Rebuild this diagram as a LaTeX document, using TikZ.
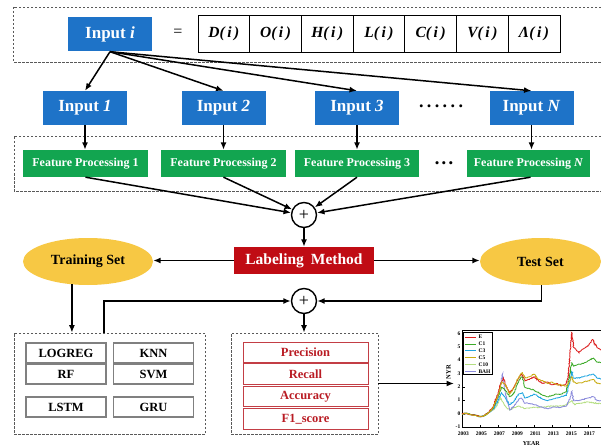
\documentclass[tikz,border=0pt]{standalone}
\usepackage{fontspec}
\setmainfont{Liberation Serif}
\usetikzlibrary{shapes.geometric,arrows.meta,decorations.pathmorphing}

\definecolor{inblue}{RGB}{30,115,200}
\definecolor{fpgreen}{RGB}{18,165,80}
\definecolor{lmred}{RGB}{192,12,20}
\definecolor{setyellow}{RGB}{247,200,68}
\definecolor{metricred}{RGB}{185,28,36}

\tikzset{
  link/.style={-{Latex[length=7.5pt,width=6pt]}, line width=1.5pt},
  dashbox/.style={draw=black!65, line width=0.7pt, dash pattern=on 2.5pt off 1.5pt},
  inputbox/.style={fill=inblue, text=white, font=\fontsize{17}{20}\selectfont\bfseries,
    minimum width=84, minimum height=34, inner sep=0},
  cellbox/.style={draw, line width=0.8pt, font=\fontsize{15.5}{18}\selectfont\bfseries\itshape,
    minimum width=51.7, minimum height=37, inner sep=0},
  featbox/.style={fill=fpgreen, text=white, font=\fontsize{12}{14}\selectfont\bfseries,
    minimum width=125, minimum height=27, inner sep=0},
  sumnode/.style={draw, circle, line width=1.4pt, minimum size=25, inner sep=0,
    font=\fontsize{18}{18}\selectfont},
  setnode/.style={ellipse, fill=setyellow, font=\fontsize{14}{16}\selectfont\bfseries,
    minimum height=47, inner sep=0},
  algobox/.style={draw=black!50, line width=1.4pt, font=\fontsize{12.5}{14}\selectfont\bfseries,
    minimum width=80, minimum height=20, inner sep=0},
  metricbox/.style={draw=metricred!85, line width=1pt, text=metricred,
    font=\fontsize{12.5}{14}\selectfont\bfseries, minimum width=125, minimum height=20.5, inner sep=0},
  ticklbl/.style={font=\fontsize{5.5}{6}\selectfont\bfseries, inner sep=0.6pt},
  curve/.style={line width=0.85pt, decorate,
    decoration={random steps, segment length=0.9pt, amplitude=0.5pt}}
}

\begin{document}
\begin{tikzpicture}[x=1pt, y=-1pt]
    \useasboundingbox (0,0) rectangle (601,446);
    \pgfmathsetseed{7}

    % Dashed frames round the first two rows
    \draw[dashbox] (605,7) -- (13,7) -- (13,62) -- (605,62);
    \draw[dashbox] (605,136) -- (14,136) -- (14,191) -- (605,191);

    % Draw the input sample and its seven fields
    \node[inputbox] at (110, 34.5) (inputi) {Input \textit{i}};
    \node[font=\fontsize{16}{18}\selectfont] at (178, 33) (eq) {=};
    \foreach \lbl [count=\k] in {D,O,H,L,C,V,Λ}
        \node[cellbox] at (198 + 25.85 + 51.7*\k - 51.7, 33.5) (cell\k) {\lbl(\,i\,)};

    % Draw the split inputs
    \node[inputbox] at (85, 108) (in1) {Input \textit{1}};
    \node[inputbox] at (223.5, 108) (in2) {Input \textit{2}};
    \node[inputbox] at (357, 108) (in3) {Input \textit{3}};
    \node[inputbox] at (531.5, 108) (inN) {Input \textit{N}};
    \node[font=\fontsize{18}{18}\selectfont\bfseries] at (441, 106) (indots)
        {.\kern3.4pt.\kern3.4pt.\kern3.4pt.\kern3.4pt.\kern3.4pt.};

    \foreach \n in {1,2,3,N}
        \draw[link] (inputi.south) -- (in\n.north);

    % Draw the feature processing boxes
    \node[featbox] at (85.5, 163.5) (fp1) {Feature Processing 1};
    \node[featbox] at (223.5, 163.5) (fp2) {Feature Processing 2};
    \node[featbox, minimum width=124] at (357, 163.5) (fp3) {Feature Processing 3};
    \node[featbox, minimum width=123] at (528.5, 163.5) (fpN) {Feature Processing \textit{N}};
    \node[font=\fontsize{13}{13}\selectfont] at (444, 165) (fpdots) {•\kern2.4pt•\kern2.4pt•};

    \draw[link] (in1.south) -- (in1.south |- fp1.north);
    \draw[link] (in2.south) -- (in2.south |- fp2.north);
    \draw[link] (in3.south) -- (in3.south |- fp3.north);
    \draw[link] (inN.south) -- (inN.south |- fpN.north);

    % Merge the features and label them
    \node[sumnode] at (304, 215) (sum1) {+};
    \foreach \n in {1,2,3}
        \draw[link] (fp\n.south) -- (sum1);
    \draw[link] ([xshift=2pt]fpN.south) -- (sum1);

    \node[fill=lmred, text=white, font=\fontsize{15.5}{18}\selectfont\bfseries,
        minimum width=140, minimum height=27, inner sep=0] at (304, 260.5) (label)
        {Labeling\hspace{0.45em}Method};
    \draw[link] (sum1) -- (label);

    \node[setnode, minimum width=130] at (88, 261.5) (train) {Training Set};
    \node[setnode, minimum width=121] at (540.5, 261.5) (test) {Test Set};
    \draw[link] (label.west) -- (label.west -| train.east);
    \draw[link] (label.east) -- (label.east -| test.west);

    % Draw the models and the metrics
    \node[dashbox, minimum width=191, minimum height=101, inner sep=0] at (109.5, 383.5) (models) {};
    \node[algobox] at (66, 353) (logreg) {LOGREG};
    \node[algobox] at (153.5, 353) (knn) {KNN};
    \node[algobox] at (66, 374) (rf) {RF};
    \node[algobox] at (153.5, 374) (svm) {SVM};
    \node[algobox] at (66, 407) (lstm) {LSTM};
    \node[algobox] at (153.5, 407) (gru) {GRU};

    \node[dashbox, minimum width=147, minimum height=101, inner sep=0] at (304.5, 383.5) (metrics) {};
    \node[metricbox] at (305.5, 352.5) (prec) {Precision};
    \node[metricbox] at (305.5, 374) (rec) {Recall};
    \node[metricbox] at (305.5, 396.5) (acc) {Accuracy};
    \node[metricbox] at (305.5, 419) (f1) {F1\_score};

    \node[sumnode] at (304, 301) (sum2) {+};
    \draw[link] (train.235) -- (train.235 |- models.north);
    \draw[link] ([xshift=-5.5pt]models.north) |- (sum2);
    \draw[link] (test.272) |- (sum2);
    \draw[link] (sum2) -- (sum2 |- metrics.north);

    \coordinate (chartin) at (454, 383.5);
    \draw[link] (metrics.east) -- (chartin);

    % Draw the return curves
    \begin{scope}[shift={(462,414)}, x=9pt, y=13.3pt]
        \draw[line width=0.6pt] (16,6.3) -- (0,6.3) -- (0,-1) -- (16,-1);
        \foreach \v in {-1,...,6} {
            \draw[line width=0.5pt] (0,\v) -- (0.3,\v);
            \node[ticklbl, anchor=east] at (-0.1,\v+0.05) {\v};
        }
        \foreach \k in {0,2,...,14} {
            \draw[line width=0.5pt] (\k,-1) -- (\k,-0.8);
            \pgfmathtruncatemacro{\yr}{2003+\k}
            \node[ticklbl, anchor=north] at (\k+0.15,-1.3) {\yr};
        }
        \node[ticklbl, font=\fontsize{6.5}{7}\selectfont\bfseries, rotate=90] at (-1.5,3.15) {NYR};
        \node[ticklbl, font=\fontsize{6}{7}\selectfont\bfseries] at (7.7,-2.2) {YEAR};

        \draw[curve, color={rgb,255:red,180;green,222;blue,130}] plot coordinates {(0,0) (0.5,0.05) (1,-0.05) (1.5,-0.1) (2,-0.2) (2.5,-0.12) (3,0.12) (3.5,0.3) (4,0.8) (4.3,1.2) (4.8,0.6) (5.3,0.3) (5.8,0.5) (6.3,0.6) (7,0.4) (8,0.5) (9,0.5) (10,0.6) (11,0.6) (11.6,0.7) (12,0.9) (12.2,1.0) (12.5,0.7) (13,0.8) (14,0.9) (15,0.8) (16,0.8)};
        \draw[curve, color={rgb,255:red,140;green,140;blue,220}] plot coordinates {(0,0) (0.5,0.05) (1,-0.05) (1.5,-0.1) (2,-0.2) (2.5,-0.12) (3,0.12) (3.5,0.4) (4,1.2) (4.3,2.2) (4.5,3.0) (4.7,2.0) (5.0,1.0) (5.3,0.3) (5.8,0.6) (6.3,1.1) (6.6,1.2) (7,0.8) (7.5,0.8) (8,0.7) (8.5,0.6) (9,0.5) (9.5,0.4) (10,0.5) (10.5,0.5) (11,0.5) (11.6,0.6) (12,1.2) (12.2,1.7) (12.4,1.0) (12.8,1.0) (13.5,1.1) (14,1.2) (14.6,1.3) (15,1.0) (16,1.0)};
        \draw[curve, color={rgb,255:red,30;green,165;blue,225}] plot coordinates {(0,0) (0.5,0.05) (1,-0.05) (1.5,-0.1) (2,-0.2) (2.5,-0.12) (3,0.12) (3.5,0.4) (4,1.0) (4.4,1.6) (4.8,1.2) (5.3,0.7) (5.8,1.0) (6.3,1.5) (6.7,1.6) (7,1.2) (7.5,1.3) (8,1.5) (8.5,1.3) (9,1.1) (9.5,1.0) (10,1.1) (10.5,1.2) (11,1.3) (11.6,1.4) (12,2.5) (12.2,3.2) (12.4,2.7) (12.8,2.7) (13.5,2.8) (14,2.9) (14.6,3.0) (15,2.7) (16,2.6)};
        \draw[curve, color={rgb,255:red,60;green,170;blue,40}] plot coordinates {(0,0) (0.5,0.05) (1,-0.05) (1.5,-0.1) (2,-0.2) (2.5,-0.12) (3,0.12) (3.5,0.5) (4,1.3) (4.4,2.0) (4.8,1.8) (5.3,1.3) (5.8,1.6) (6.3,2.5) (6.7,2.8) (7,2.0) (7.5,1.9) (8,1.8) (8.5,1.6) (9,1.4) (9.5,1.3) (10,1.4) (10.5,1.5) (11,1.5) (11.6,1.7) (12,3.0) (12.2,3.9) (12.4,3.6) (12.8,3.7) (13.5,3.8) (14,4.0) (14.6,4.2) (15,3.9) (16,3.8)};
        \draw[curve, color={rgb,255:red,220;green,30;blue,30}] plot coordinates {(0,0) (0.5,0.05) (1,-0.05) (1.5,-0.1) (2,-0.2) (2.5,-0.12) (3,0.15) (3.5,0.6) (4,1.6) (4.3,2.3) (4.6,2.7) (4.9,2.1) (5.3,1.6) (5.7,1.9) (6.2,2.6) (6.6,3.0) (7,2.5) (7.5,2.6) (8,2.8) (8.5,2.5) (9,2.3) (9.5,2.4) (10,2.2) (10.5,2.3) (11,2.1) (11.5,2.2) (11.8,2.8) (12,4.5) (12.2,6.1) (12.4,5.0) (12.7,4.8) (13,4.6) (13.5,4.9) (14,5.1) (14.5,5.6) (15,5.0) (15.5,4.8) (16,5.0)};
        \draw[curve, color={rgb,255:red,200;green,172;blue,20}] plot coordinates {(0,0) (0.5,0.05) (1,-0.05) (1.5,-0.1) (2,-0.2) (2.5,-0.12) (3,0.12) (3.5,0.5) (4,1.4) (4.4,2.4) (4.8,2.2) (5.3,1.5) (5.8,2.0) (6.3,2.8) (6.7,3.1) (7,2.7) (7.5,2.8) (8,3.0) (8.5,2.6) (9,2.5) (9.5,2.3) (10,2.4) (10.5,2.2) (11,2.2) (11.6,2.1) (12,2.5) (12.2,2.8) (12.4,2.4) (12.8,2.3) (13.5,2.4) (14,2.5) (14.6,2.6) (15,2.3) (16,2.2)};

        % Legend
        \draw[fill=white, line width=0.5pt] (0.1,6.17) rectangle (3.4,3.0);
        \foreach \clr/\name [count=\r] in {{rgb,255:red,220;green,30;blue,30}/E,
                {rgb,255:red,60;green,170;blue,40}/C1,
                {rgb,255:red,30;green,165;blue,225}/C3,
                {rgb,255:red,200;green,172;blue,20}/C5,
                {rgb,255:red,180;green,222;blue,130}/C10,
                {rgb,255:red,140;green,140;blue,220}/BAH} {
            \draw[color=\clr, line width=1pt] (0.35,6.3-0.52*\r) -- (1.6,6.3-0.52*\r);
            \node[ticklbl, anchor=west] at (1.75,6.3-0.52*\r) {\name};
        }
    \end{scope}
\end{tikzpicture}
\end{document}
